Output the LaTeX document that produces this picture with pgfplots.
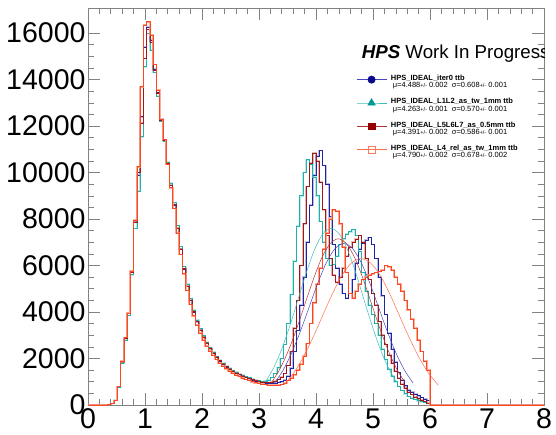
\documentclass[border=0pt]{standalone}
\usepackage{fontspec}
\setmainfont{Liberation Sans}
\usepackage{pgfplots}
\usepackage{pgfplotstable}
\pgfplotsset{compat=1.18}
\definecolor{hblue}{RGB}{35,35,165}
\definecolor{hcyan}{RGB}{32,178,170}
\definecolor{hred}{RGB}{160,25,25}
\definecolor{horange}{RGB}{255,70,30}
\definecolor{hsalmon}{RGB}{255,150,125}
\definecolor{mblue}{RGB}{10,10,140}
\definecolor{mcyan}{RGB}{0,150,150}
\definecolor{mred}{RGB}{150,0,0}
\definecolor{msalmon}{RGB}{255,120,90}
\definecolor{fblue}{RGB}{70,70,190}
\definecolor{fcyan}{RGB}{60,190,190}
\definecolor{fred}{RGB}{180,50,50}
\definecolor{forange}{RGB}{255,110,80}
\definecolor{frame}{RGB}{130,130,130}

\pgfplotstableread{
x a b c d
0 0 0 0 0
0.2857 5 5 5 5
0.3429 20 20 20 20
0.4 70 70 70 70
0.4571 200 210 200 200
0.5143 790 760 790 800
0.5714 1860 1800 1860 1880
0.6286 2870 2800 2870 2900
0.6857 3940 3850 3940 3960
0.7429 5730 5600 5730 5760
0.8 7880 7600 7880 7950
0.8571 9900 9200 10000 10250
0.9143 12400 11540 12130 13690
0.9714 15400 14550 14900 16340
1.0286 16270 15980 16150 16490
1.0857 15700 15270 15600 15910
1.1429 14450 14300 14400 14650
1.2 13450 13300 13400 13550
1.2571 12300 12200 12250 12280
1.3143 11400 11350 11380 11420
1.3714 10400 10450 10380 10350
1.4286 9460 9550 9450 9350
1.4857 8600 8700 8620 8450
1.5429 7600 7720 7620 7400
1.6 6700 6820 6710 6480
1.6571 5850 5960 5870 5650
1.7143 5100 5200 5120 4920
1.7714 4500 4590 4510 4330
1.8286 4000 4080 4010 3840
1.8857 3580 3650 3590 3440
1.9429 3220 3290 3230 3090
2.0 2920 2980 2930 2800
2.0571 2650 2700 2660 2540
2.1143 2420 2470 2430 2320
2.1714 2220 2270 2230 2130
2.2286 2050 2090 2060 1960
2.2857 1900 1940 1910 1810
2.3429 1760 1800 1770 1680
2.4 1640 1680 1650 1560
2.4571 1540 1580 1550 1460
2.5143 1450 1490 1460 1370
2.5714 1370 1410 1380 1290
2.6286 1300 1340 1310 1220
2.6857 1240 1280 1250 1160
2.7429 1180 1220 1190 1100
2.8 1130 1170 1140 1050
2.8571 1080 1120 1090 1000
2.9143 1040 1080 1050 960
2.9714 1000 1040 1010 930
3.0286 960 1010 980 900
3.0857 940 1020 960 880
3.1429 930 1080 960 860
3.2 930 1180 980 850
3.2571 940 1350 1020 850
3.3143 960 1600 1100 860
3.3714 1000 2000 1200 880
3.4286 1080 2600 1350 950
3.4857 1250 3500 1700 1050
3.5429 1600 4750 2300 1150
3.6 2300 6200 3300 1300
3.6571 3200 7700 4500 1500
3.7143 4300 9000 6000 1750
3.7714 5500 10000 7800 2100
3.8286 7000 10550 9400 2650
3.8857 8600 10350 10400 3500
3.9429 9900 9800 10850 4400
4.0 10700 9000 10500 5200
4.0571 10950 7900 9600 5900
4.1143 10300 7000 8400 6700
4.1714 9500 6300 7300 7400
4.2286 8100 6000 6300 8000
4.2857 6900 6050 5600 8400
4.3429 5900 6400 5300 8350
4.4 5200 6900 5500 7800
4.4571 4800 7150 5900 6800
4.5143 4600 7350 6400 5700
4.5714 4800 7450 6800 4800
4.6286 5400 7550 7000 4600
4.6857 6100 7300 7150 4900
4.7429 6700 6600 7300 5200
4.8 6950 5700 7000 5400
4.8571 7100 4900 6300 5500
4.9143 7200 4300 5400 5600
4.9714 6900 3900 4800 5650
5.0286 6300 3500 4300 5700
5.0857 5500 3000 3600 5750
5.1429 4700 2400 3000 5800
5.2 3900 1950 2600 6000
5.2571 3100 1550 2150 5950
5.3143 2400 1250 1800 5800
5.3714 1850 1000 1450 5500
5.4286 1400 800 1150 5200
5.4857 1080 620 900 4900
5.5429 830 480 720 4500
5.6 650 370 560 4100
5.6571 560 290 450 3700
5.7143 470 230 350 3300
5.7714 400 180 280 2800
5.8286 320 140 210 2300
5.8857 250 100 150 1900
5.9429 200 60 90 1500
6.0 0 0 0 0
8.0 0 0 0 0
}\hist

\begin{document}
\begin{tikzpicture}
\path[use as bounding box] (-88pt,-29pt) rectangle (468pt,405pt);
\begin{axis}[
  at={(0pt,0pt)}, anchor=south west,
  scale only axis, width=456pt, height=397pt,
  xmin=0, xmax=8, ymin=0, ymax=17080,
  xtick={0,1,...,8}, ytick={0,2000,...,16000},
  minor x tick num=4, minor y tick num=3,
  tick align=inside,
  major tick length=12pt, minor tick length=6pt,
  every tick/.style={frame, line width=0.6pt},
  axis line style={frame, line width=0.7pt},
  ticklabel style={font=\fontsize{28.5}{29}\selectfont},
  yticklabel style={xshift=1pt},
  /pgf/number format/assume math mode=true,
  /pgf/number format/1000 sep={},
  scaled y ticks=false,
  legend style={at={(axis cs:4.702,14250)}, anchor=north west, draw=none, fill=none,
    inner sep=0pt, font=\fontsize{7.5}{7.5}\selectfont, row sep=12pt, column sep=3pt,
    nodes={inner sep=1pt, text depth=0pt}, cells={anchor=west}},
  legend cell align=left,
  legend image code/.code={\draw[mark repeat=2,mark phase=2,#1] plot coordinates {(0pt,0pt) (15pt,0pt) (30pt,0pt)};},
]
% histograms: pale halo + thin line
\addplot[const plot mark left, hblue, line width=1.6pt, opacity=0.3, forget plot] table[x=x,y=a] {\hist};
\addplot[const plot mark left, hblue, line width=0.6pt, forget plot] table[x=x,y=a] {\hist};
\addplot[const plot mark left, hcyan, line width=1.6pt, opacity=0.3, forget plot] table[x=x,y=b] {\hist};
\addplot[const plot mark left, hcyan, line width=0.7pt, forget plot] table[x=x,y=b] {\hist};
\addplot[const plot mark left, hred, line width=1.6pt, opacity=0.3, forget plot] table[x=x,y=c] {\hist};
\addplot[const plot mark left, hred, line width=0.6pt, forget plot] table[x=x,y=c] {\hist};
\addplot[const plot mark left, hsalmon, line width=1.7pt, opacity=0.8, forget plot] table[x=x,y=d] {\hist};
\addplot[const plot mark left, horange, line width=0.6pt, forget plot] table[x=x,y=d] {\hist};
% gaussian fits
\addplot[smooth, fblue, line width=0.5pt, forget plot] coordinates {
(3.272,940) (3.424,1503) (3.576,2257) (3.728,3182) (3.880,4215) (4.032,5246) (4.184,6133) (4.336,6736) (4.488,6950)
(4.640,6736) (4.792,6133) (4.944,5246) (5.096,4215) (5.248,3182) (5.400,2257) (5.552,1503) (5.704,940)};
\addplot[smooth, fcyan, line width=0.5pt, forget plot] coordinates {
(3.123,1028) (3.266,1644) (3.408,2468) (3.551,3479) (3.693,4609) (3.836,5736) (3.978,6707) (4.121,7366) (4.263,7600)
(4.406,7366) (4.548,6707) (4.691,5736) (4.833,4609) (4.976,3479) (5.118,2468) (5.261,1644) (5.403,1028)};
\addplot[smooth, fred, line width=0.5pt, forget plot] coordinates {
(3.219,967) (3.366,1547) (3.512,2322) (3.659,3273) (3.805,4336) (3.952,5397) (4.098,6310) (4.245,6930) (4.391,7150)
(4.538,6930) (4.684,6310) (4.831,5397) (4.977,4336) (5.124,3273) (5.270,2322) (5.417,1547) (5.563,967)};
\addplot[smooth, forange, line width=0.5pt, forget plot] coordinates {
(3.434,852) (3.604,1363) (3.773,2046) (3.943,2884) (4.112,3821) (4.282,4755) (4.451,5560) (4.621,6106) (4.790,6300)
(4.960,6106) (5.129,5560) (5.299,4755) (5.468,3821) (5.638,2884) (5.807,2046) (5.977,1363) (6.146,852)};
% legend
\addlegendimage{fblue, line width=0.7pt, mark=*, mark size=3.6pt, mark options={fill=mblue, draw=mblue}}
\addlegendentry{\begin{tabular}[c]{@{}l@{}}\bfseries HPS\_IDEAL\_iter0 ttb\\ \hspace{2pt}μ=4.488{\fontsize{5.5}{5.5}\selectfont+/-} 0.002\ \ σ=0.608{\fontsize{5.5}{5.5}\selectfont+/-} 0.001\end{tabular}}
\addlegendimage{fcyan, line width=0.7pt, mark=triangle*, mark size=4.2pt, mark options={fill=mcyan, draw=mcyan}}
\addlegendentry{\begin{tabular}[c]{@{}l@{}}\bfseries HPS\_IDEAL\_L1L2\_as\_tw\_1mm ttb\\ \hspace{2pt}μ=4.263{\fontsize{5.5}{5.5}\selectfont+/-} 0.001\ \ σ=0.570{\fontsize{5.5}{5.5}\selectfont+/-} 0.001\end{tabular}}
\addlegendimage{fred, line width=0.7pt, mark=square*, mark size=3.4pt, mark options={fill=mred, draw=mred}}
\addlegendentry{\begin{tabular}[c]{@{}l@{}}\bfseries HPS\_IDEAL\_L5L6L7\_as\_0.5mm ttb\\ \hspace{2pt}μ=4.391{\fontsize{5.5}{5.5}\selectfont+/-} 0.002\ \ σ=0.586{\fontsize{5.5}{5.5}\selectfont+/-} 0.001\end{tabular}}
\addlegendimage{forange, line width=0.7pt, mark=square, mark size=3.4pt, mark options={draw=msalmon, fill=none}}
\addlegendentry{\begin{tabular}[c]{@{}l@{}}\bfseries HPS\_IDEAL\_L4\_rel\_as\_tw\_1mm ttb\\ \hspace{2pt}μ=4.790{\fontsize{5.5}{5.5}\selectfont+/-} 0.002\ \ σ=0.678{\fontsize{5.5}{5.5}\selectfont+/-} 0.002\end{tabular}}
\node[anchor=base west, inner sep=0pt, font=\fontsize{18.7}{19}\selectfont] at (axis cs:4.80,14916) {{\bfseries\itshape HPS} Work In Progress};
\end{axis}
\end{tikzpicture}
\end{document}
